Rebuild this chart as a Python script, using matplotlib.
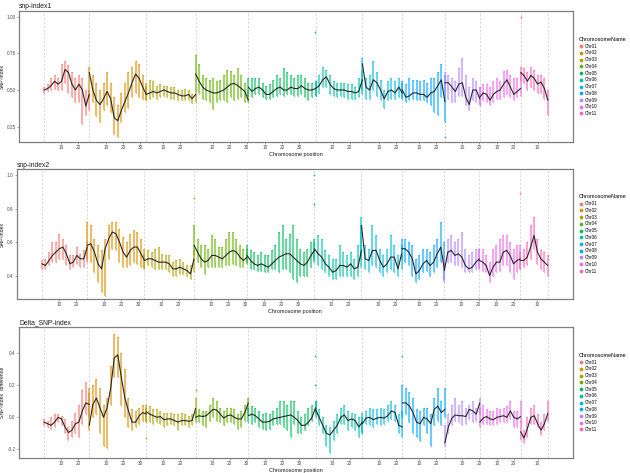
import numpy as np
import matplotlib
matplotlib.use("Agg")
import matplotlib.pyplot as plt
from matplotlib.lines import Line2D

plt.rcParams['font.family'] = ['Liberation Sans', 'DejaVu Sans']

# ---------------- data ----------------
chrom_names = ['Chr01', 'Chr02', 'Chr03', 'Chr04', 'Chr05', 'Chr06',
               'Chr07', 'Chr08', 'Chr09', 'Chr10', 'Chr11']
chrom_len = [26.5, 33.5, 29.0, 31.0, 39.5, 27.5, 23.5, 25.0, 20.5, 24.0, 16.0]
chrom_colors = ["#F8766D", "#DB8E00", "#AEA200", "#64B200", "#00BD5C", "#00C1A7",
                "#00BADE", "#00A6FF", "#B385FF", "#EF67EB", "#FF63B6"]
xtick_steps = [10, 20, 30]

# snp-index1: fitted curve, lower and upper extent of the points (per chromosome)
snp1_fit = [
    [0.50, 0.51, 0.53, 0.56, 0.54, 0.56, 0.64, 0.62, 0.54, 0.50, 0.54, 0.50, 0.39, 0.47],
    [0.62, 0.50, 0.43, 0.40, 0.44, 0.49, 0.44, 0.31, 0.29, 0.36, 0.42, 0.48, 0.55, 0.61, 0.58, 0.52, 0.47],
    [0.47, 0.48, 0.49, 0.48, 0.49, 0.50, 0.49, 0.48, 0.48, 0.47, 0.46, 0.46, 0.47, 0.44, 0.47],
    [0.61, 0.56, 0.52, 0.50, 0.49, 0.48, 0.48, 0.49, 0.50, 0.52, 0.54, 0.545, 0.53, 0.51, 0.49, 0.43],
    [0.52, 0.49, 0.51, 0.52, 0.50, 0.47, 0.47, 0.49, 0.51, 0.52, 0.50, 0.50, 0.52, 0.51, 0.51, 0.53, 0.51, 0.50, 0.50, 0.51],
    [0.51, 0.53, 0.57, 0.59, 0.54, 0.51, 0.50, 0.50, 0.50, 0.49, 0.49, 0.48, 0.49, 0.57],
    [0.68, 0.52, 0.50, 0.57, 0.55, 0.50, 0.44, 0.49, 0.50, 0.48, 0.52, 0.48],
    [0.50, 0.45, 0.46, 0.48, 0.48, 0.47, 0.47, 0.45, 0.48, 0.49, 0.53, 0.57, 0.42],
    [0.55, 0.55, 0.52, 0.49, 0.54, 0.55, 0.45, 0.40, 0.50, 0.50, 0.44],
    [0.45, 0.48, 0.47, 0.43, 0.47, 0.49, 0.50, 0.54, 0.57, 0.52, 0.47, 0.49, 0.51],
    [0.62, 0.60, 0.56, 0.60, 0.58, 0.54, 0.555, 0.51, 0.43],
]
snp1_low = [
    [0.48, 0.49, 0.50, 0.51, 0.50, 0.50, 0.55, 0.48, 0.45, 0.42, 0.42, 0.27, 0.33, 0.36],
    [0.45, 0.42, 0.32, 0.28, 0.36, 0.40, 0.35, 0.20, 0.18, 0.28, 0.35, 0.38, 0.45, 0.48, 0.45, 0.44, 0.43],
    [0.43, 0.44, 0.45, 0.44, 0.45, 0.46, 0.45, 0.44, 0.44, 0.43, 0.43, 0.43, 0.43, 0.41, 0.42],
    [0.50, 0.48, 0.44, 0.43, 0.42, 0.37, 0.42, 0.43, 0.43, 0.42, 0.45, 0.43, 0.44, 0.45, 0.42, 0.42],
    [0.46, 0.45, 0.47, 0.47, 0.45, 0.44, 0.44, 0.45, 0.46, 0.47, 0.46, 0.47, 0.47, 0.46, 0.46, 0.47, 0.45, 0.43, 0.45, 0.46],
    [0.46, 0.48, 0.52, 0.52, 0.47, 0.46, 0.45, 0.46, 0.45, 0.44, 0.44, 0.44, 0.45, 0.47],
    [0.50, 0.44, 0.44, 0.50, 0.46, 0.43, 0.38, 0.43, 0.44, 0.44, 0.45, 0.45],
    [0.44, 0.42, 0.43, 0.44, 0.43, 0.43, 0.43, 0.42, 0.40, 0.35, 0.33, 0.45, 0.28],
    [0.48, 0.44, 0.42, 0.42, 0.46, 0.46, 0.40, 0.36, 0.43, 0.42, 0.40],
    [0.40, 0.43, 0.42, 0.40, 0.42, 0.44, 0.44, 0.45, 0.47, 0.45, 0.43, 0.45, 0.46],
    [0.56, 0.55, 0.50, 0.52, 0.50, 0.48, 0.48, 0.44, 0.33],
]
snp1_high = [
    [0.52, 0.54, 0.58, 0.60, 0.58, 0.68, 0.70, 0.67, 0.62, 0.58, 0.60, 0.58, 0.50, 0.50],
    [0.66, 0.60, 0.55, 0.50, 0.55, 0.62, 0.55, 0.45, 0.40, 0.48, 0.55, 0.62, 0.66, 0.70, 0.68, 0.60, 0.55],
    [0.53, 0.57, 0.56, 0.53, 0.54, 0.53, 0.53, 0.52, 0.52, 0.50, 0.50, 0.51, 0.50, 0.47, 0.50],
    [0.74, 0.68, 0.60, 0.58, 0.57, 0.58, 0.56, 0.57, 0.60, 0.64, 0.63, 0.60, 0.65, 0.60, 0.55, 0.50],
    [0.58, 0.58, 0.58, 0.58, 0.55, 0.53, 0.54, 0.57, 0.60, 0.58, 0.65, 0.62, 0.60, 0.58, 0.60, 0.60, 0.58, 0.55, 0.55, 0.56],
    [0.56, 0.60, 0.66, 0.64, 0.60, 0.56, 0.55, 0.55, 0.55, 0.54, 0.54, 0.52, 0.58, 0.63],
    [0.72, 0.58, 0.60, 0.70, 0.62, 0.57, 0.50, 0.56, 0.58, 0.56, 0.58, 0.55],
    [0.56, 0.54, 0.58, 0.57, 0.57, 0.56, 0.57, 0.55, 0.58, 0.58, 0.62, 0.68, 0.60],
    [0.62, 0.60, 0.58, 0.56, 0.65, 0.72, 0.60, 0.52, 0.58, 0.56, 0.52],
    [0.52, 0.54, 0.54, 0.52, 0.56, 0.58, 0.56, 0.63, 0.64, 0.60, 0.58, 0.58, 0.62],
    [0.66, 0.65, 0.62, 0.66, 0.64, 0.60, 0.60, 0.58, 0.50],
]
# isolated points: (chromosome index, position in Mb, value)
snp1_outliers = [(4, 39.3, 0.90), (7, 24.8, 0.18), (10, 0.1, 1.00)]

# snp-index2
snp2_fit = [
    [0.47, 0.46, 0.49, 0.52, 0.54, 0.56, 0.57, 0.53, 0.47, 0.48, 0.52, 0.50, 0.50, 0.57],
    [0.58, 0.59, 0.54, 0.47, 0.44, 0.56, 0.62, 0.66, 0.65, 0.60, 0.54, 0.51, 0.55, 0.57, 0.57, 0.53, 0.49],
    [0.49, 0.50, 0.50, 0.49, 0.48, 0.48, 0.48, 0.47, 0.44, 0.44, 0.45, 0.44, 0.43, 0.41, 0.50],
    [0.58, 0.54, 0.50, 0.48, 0.49, 0.52, 0.52, 0.51, 0.50, 0.52, 0.54, 0.55, 0.54, 0.51, 0.49, 0.51],
    [0.52, 0.49, 0.47, 0.46, 0.47, 0.46, 0.45, 0.47, 0.49, 0.51, 0.52, 0.53, 0.53, 0.51, 0.49, 0.47, 0.46, 0.48, 0.52, 0.55],
    [0.56, 0.53, 0.51, 0.47, 0.45, 0.42, 0.43, 0.46, 0.46, 0.45, 0.47, 0.44, 0.45, 0.55],
    [0.70, 0.50, 0.49, 0.55, 0.55, 0.49, 0.45, 0.47, 0.51, 0.51, 0.44, 0.53],
    [0.56, 0.56, 0.54, 0.50, 0.41, 0.43, 0.47, 0.49, 0.46, 0.48, 0.53, 0.57, 0.44],
    [0.43, 0.54, 0.55, 0.52, 0.53, 0.51, 0.46, 0.44, 0.45, 0.48, 0.50],
    [0.49, 0.48, 0.46, 0.40, 0.45, 0.48, 0.48, 0.54, 0.55, 0.52, 0.47, 0.49, 0.50],
    [0.49, 0.49, 0.51, 0.57, 0.64, 0.54, 0.50, 0.48, 0.46],
]
snp2_low = [
    [0.44, 0.44, 0.46, 0.48, 0.48, 0.50, 0.50, 0.46, 0.44, 0.45, 0.47, 0.45, 0.45, 0.48],
    [0.50, 0.48, 0.42, 0.36, 0.30, 0.28, 0.50, 0.56, 0.55, 0.48, 0.45, 0.45, 0.46, 0.48, 0.47, 0.45, 0.44],
    [0.45, 0.46, 0.45, 0.44, 0.44, 0.44, 0.44, 0.42, 0.40, 0.40, 0.41, 0.41, 0.40, 0.38, 0.42],
    [0.52, 0.48, 0.45, 0.41, 0.45, 0.45, 0.45, 0.45, 0.45, 0.46, 0.46, 0.47, 0.46, 0.45, 0.45, 0.47],
    [0.48, 0.44, 0.44, 0.43, 0.43, 0.42, 0.42, 0.44, 0.44, 0.42, 0.44, 0.44, 0.42, 0.38, 0.36, 0.40, 0.40, 0.40, 0.45, 0.48],
    [0.50, 0.46, 0.44, 0.42, 0.40, 0.38, 0.38, 0.40, 0.40, 0.40, 0.40, 0.38, 0.40, 0.45],
    [0.50, 0.44, 0.42, 0.46, 0.45, 0.42, 0.40, 0.42, 0.44, 0.42, 0.40, 0.44],
    [0.50, 0.48, 0.46, 0.40, 0.36, 0.38, 0.42, 0.43, 0.40, 0.42, 0.45, 0.48, 0.38],
    [0.36, 0.48, 0.48, 0.46, 0.46, 0.45, 0.42, 0.42, 0.42, 0.44, 0.45],
    [0.44, 0.43, 0.42, 0.36, 0.40, 0.42, 0.43, 0.46, 0.46, 0.42, 0.38, 0.42, 0.44],
    [0.44, 0.45, 0.46, 0.50, 0.56, 0.47, 0.44, 0.42, 0.40],
]
snp2_high = [
    [0.49, 0.50, 0.54, 0.60, 0.60, 0.65, 0.62, 0.58, 0.52, 0.52, 0.57, 0.53, 0.55, 0.60],
    [0.72, 0.70, 0.62, 0.58, 0.55, 0.62, 0.70, 0.72, 0.72, 0.68, 0.63, 0.60, 0.65, 0.67, 0.66, 0.62, 0.56],
    [0.53, 0.55, 0.54, 0.56, 0.57, 0.53, 0.52, 0.52, 0.48, 0.49, 0.50, 0.48, 0.46, 0.46, 0.55],
    [0.70, 0.62, 0.58, 0.58, 0.56, 0.64, 0.62, 0.57, 0.57, 0.62, 0.66, 0.66, 0.62, 0.58, 0.56, 0.56],
    [0.58, 0.55, 0.54, 0.52, 0.54, 0.52, 0.52, 0.55, 0.58, 0.66, 0.70, 0.62, 0.65, 0.70, 0.62, 0.56, 0.54, 0.56, 0.60, 0.62],
    [0.60, 0.64, 0.62, 0.55, 0.52, 0.50, 0.50, 0.58, 0.54, 0.52, 0.54, 0.50, 0.58, 0.70],
    [0.75, 0.58, 0.56, 0.70, 0.64, 0.56, 0.52, 0.56, 0.64, 0.58, 0.52, 0.58],
    [0.62, 0.62, 0.60, 0.58, 0.50, 0.52, 0.56, 0.56, 0.54, 0.58, 0.62, 0.72, 0.60],
    [0.52, 0.62, 0.64, 0.60, 0.62, 0.66, 0.56, 0.52, 0.54, 0.56, 0.56],
    [0.56, 0.56, 0.52, 0.48, 0.56, 0.58, 0.62, 0.64, 0.64, 0.60, 0.56, 0.58, 0.58],
    [0.54, 0.56, 0.60, 0.70, 0.75, 0.62, 0.55, 0.54, 0.52],
]
snp2_outliers = [(2, 29.0, 0.86), (4, 39.4, 1.00), (4, 39.4, 0.83), (10, 0.05, 0.89)]

# Delta SNP-index
delta_fit = [
    [-0.03, -0.04, -0.05, -0.03, 0.00, -0.01, -0.06, -0.095, -0.08, -0.04, -0.03, 0.04, 0.09, 0.08],
    [-0.05, 0.08, 0.12, 0.06, 0.00, 0.06, 0.18, 0.37, 0.39, 0.25, 0.12, 0.04, -0.03, -0.03, 0.01, 0.03, 0.02],
    [0.035, 0.02, 0.01, 0.00, 0.005, -0.015, -0.01, -0.01, -0.02, -0.03, -0.02, -0.02, -0.025, -0.02, 0.055],
    [0.00, 0.01, 0.005, 0.01, 0.03, 0.05, 0.045, 0.02, -0.005, 0.01, 0.015, 0.00, -0.01, -0.01, 0.03, 0.09],
    [0.01, 0.02, 0.01, -0.01, -0.03, -0.03, -0.025, -0.01, -0.005, 0.00, 0.005, 0.01, 0.015, 0.00, -0.02, -0.05, -0.05, -0.03, 0.00, 0.06],
    [0.05, 0.00, -0.05, -0.10, -0.11, -0.08, -0.05, 0.00, 0.015, -0.02, -0.01, -0.02, -0.06, -0.03],
    [-0.04, -0.005, 0.00, -0.015, -0.005, 0.00, -0.005, 0.01, 0.04, 0.03, -0.05, -0.06],
    [0.09, 0.09, 0.07, 0.03, -0.03, -0.04, 0.00, -0.01, -0.04, 0.05, 0.07, 0.03, 0.05],
    [-0.16, -0.06, -0.005, 0.015, 0.01, 0.01, 0.005, 0.05, 0.04, 0.02, 0.09],
    [-0.03, -0.005, 0.005, -0.01, -0.015, 0.00, 0.005, 0.01, 0.00, 0.04, 0.00, -0.01, 0.005],
    [-0.09, -0.13, -0.07, 0.00, 0.01, -0.04, -0.08, -0.04, 0.025],
]
delta_low = [
    [-0.05, -0.06, -0.07, -0.06, -0.03, -0.05, -0.10, -0.14, -0.12, -0.10, -0.12, -0.04, 0.02, 0.00],
    [-0.08, 0.00, 0.02, -0.10, -0.18, -0.19, 0.08, 0.25, 0.25, 0.08, 0.00, -0.06, -0.08, -0.06, -0.04, -0.02, -0.03],
    [-0.02, -0.03, -0.04, -0.03, -0.04, -0.06, -0.05, -0.04, -0.05, -0.08, -0.05, -0.05, -0.06, -0.05, 0.00],
    [-0.03, -0.03, -0.05, -0.06, -0.02, 0.00, -0.02, -0.03, -0.05, -0.03, -0.03, -0.04, -0.07, -0.06, -0.02, 0.02],
    [-0.03, -0.04, -0.03, -0.06, -0.07, -0.08, -0.07, -0.05, -0.04, -0.04, -0.06, -0.08, -0.12, -0.04, -0.10, -0.10, -0.08, -0.05, -0.02, 0.02],
    [0.00, -0.05, -0.10, -0.18, -0.22, -0.14, -0.10, -0.04, -0.04, -0.08, -0.06, -0.08, -0.12, -0.10],
    [-0.10, -0.04, -0.05, -0.06, -0.04, -0.05, -0.04, -0.02, -0.01, -0.02, -0.10, -0.12],
    [0.00, 0.02, -0.03, -0.10, -0.12, -0.15, -0.05, -0.10, -0.18, -0.05, -0.02, -0.05, 0.00],
    [-0.18, -0.10, -0.05, -0.02, -0.03, -0.05, -0.04, -0.01, -0.03, -0.02, 0.02],
    [-0.06, -0.04, -0.04, -0.05, -0.05, -0.04, -0.03, -0.03, -0.03, -0.01, -0.06, -0.06, -0.03],
    [-0.14, -0.16, -0.12, -0.04, -0.04, -0.06, -0.11, -0.08, -0.02],
]
delta_high = [
    [-0.01, -0.02, 0.00, 0.02, 0.02, 0.01, -0.01, -0.06, -0.02, 0.03, 0.08, 0.17, 0.22, 0.15],
    [0.18, 0.20, 0.24, 0.18, 0.08, 0.12, 0.32, 0.52, 0.50, 0.40, 0.30, 0.12, 0.05, 0.04, 0.06, 0.08, 0.06],
    [0.08, 0.07, 0.05, 0.05, 0.04, 0.03, 0.03, 0.03, 0.02, 0.02, 0.03, 0.02, 0.01, 0.02, 0.12],
    [0.04, 0.05, 0.04, 0.04, 0.08, 0.12, 0.10, 0.06, 0.04, 0.06, 0.06, 0.05, 0.02, 0.04, 0.08, 0.12],
    [0.06, 0.07, 0.06, 0.04, 0.02, 0.03, 0.02, 0.04, 0.06, 0.10, 0.10, 0.08, 0.10, 0.10, 0.04, 0.00, 0.02, 0.06, 0.08, 0.10],
    [0.10, 0.05, 0.00, -0.05, -0.06, -0.02, 0.02, 0.06, 0.08, 0.04, 0.03, 0.02, 0.00, 0.03],
    [0.00, 0.04, 0.06, 0.05, 0.05, 0.06, 0.05, 0.08, 0.10, 0.08, 0.02, 0.04],
    [0.20, 0.18, 0.16, 0.12, 0.05, 0.04, 0.06, 0.06, 0.02, 0.12, 0.18, 0.10, 0.18],
    [-0.05, 0.02, 0.08, 0.12, 0.08, 0.10, 0.06, 0.08, 0.10, 0.06, 0.12],
    [0.06, 0.08, 0.05, 0.04, 0.04, 0.06, 0.05, 0.06, 0.07, 0.10, 0.04, 0.04, 0.10],
    [-0.02, -0.08, 0.00, 0.06, 0.08, 0.02, -0.03, 0.02, 0.10],
]
delta_outliers = [(4, 39.4, 0.385), (4, 39.4, 0.20), (6, 23.4, 0.385), (2, 29.0, 0.17), (1, 33.3, -0.13)]

# ---------------- layout ----------------
W, H = 630, 473
fig = plt.figure(figsize=(W / 100, H / 100), dpi=100)
offsets = np.concatenate([[0.0], np.cumsum(chrom_len)[:-1]])
total = float(np.sum(chrom_len))
pad = total * 0.05

panels = [
    dict(title='snp-index1', ylabel='SNP-index', fit=snp1_fit, low=snp1_low, high=snp1_high,
         out=snp1_outliers, ylim=(0.144, 1.041), yticks=[0.25, 0.50, 0.75, 1.00],
         ytl=['0.25', '0.50', '0.75', '1.00'], box=(19, 11, 573, 142)),
    dict(title='snp-index2', ylabel='SNP-index', fit=snp2_fit, low=snp2_low, high=snp2_high,
         out=snp2_outliers, ylim=(0.260, 1.036), yticks=[0.4, 0.6, 0.8, 1.0],
         ytl=['0.4', '0.6', '0.8', '1.0'], box=(16.7, 169, 573, 299)),
    dict(title='Delta_SNP-index', ylabel='SNP-index  difference', fit=delta_fit, low=delta_low,
         high=delta_high, out=delta_outliers, ylim=(-0.254, 0.564), yticks=[-0.2, 0.0, 0.2, 0.4],
         ytl=['-0.2', '0.0', '0.2', '0.4'], box=(19, 327, 573, 458)),
]

spine_col = '#7f7f7f'
tick_col = '#4d4d4d'

for p in panels:
    l, t, r, b = p['box']
    ax = fig.add_axes([l / W, 1 - b / H, (r - l) / W, (b - t) / H])
    ax.set_xlim(-pad, total + pad)
    ax.set_ylim(*p['ylim'])

    # chromosome boundaries
    for xb in list(offsets) + [total]:
        ax.axvline(xb, color='#c8c8c8', lw=0.5, ls=(0, (3, 2.5)), zorder=1)

    for i in range(len(chrom_names)):
        L = chrom_len[i]
        col = chrom_colors[i]
        lo = p['low'][i]
        hi = p['high'][i]
        n = min(len(lo), len(hi))
        xs = offsets[i] + np.linspace(0, L, n)
        ax.vlines(xs, lo[:n], hi[:n], color=col, lw=1.5, alpha=0.58, zorder=2)
        ax.scatter(xs, lo[:n], s=1.0, color=col, alpha=0.6, lw=0, zorder=2)
        ax.scatter(xs, hi[:n], s=1.0, color=col, alpha=0.6, lw=0, zorder=2)
        f = p['fit'][i]
        xf = offsets[i] + np.linspace(0, L, len(f))
        ax.plot(xf, f, color='#262626', lw=0.8, zorder=3, solid_capstyle='round')

    for (ci, pos, val) in p['out']:
        ax.scatter([offsets[ci] + pos], [val], s=1.5, color=chrom_colors[ci], lw=0, zorder=2)

    # x ticks: 10, 20, 30 within each chromosome
    xt, xl = [], []
    for i in range(len(chrom_names)):
        for s in xtick_steps:
            if s <= chrom_len[i]:
                xt.append(offsets[i] + s)
                xl.append(str(s))
    ax.set_xticks(xt)
    ax.set_xticklabels(xl)
    ax.set_yticks(p['yticks'])
    ax.set_yticklabels(p['ytl'])
    ax.tick_params(axis='both', labelsize=3.4, length=1.6, width=0.5, pad=0.8,
                   colors=spine_col, labelcolor=tick_col)
    for sp in ax.spines.values():
        sp.set_color(spine_col)
        sp.set_linewidth(0.9)

    ax.set_xlabel('Chromosome position', fontsize=4.0, labelpad=1.2, color='#1a1a1a')
    ax.set_ylabel(p['ylabel'], fontsize=3.8, labelpad=1.5, color='#1a1a1a')
    ax.set_title(p['title'], loc='left', fontsize=4.9, pad=1.8, color='#1a1a1a')

    # legend
    handles = [Line2D([], [], ls='none', marker='o', ms=2.7, color=c, mec='none')
               for c in chrom_colors]
    cy = 1 - ((t + b) / 2) / H
    leg = fig.legend(handles, chrom_names, title='ChromosomeName', loc='center left',
                     bbox_to_anchor=(579 / W, cy), bbox_transform=fig.transFigure,
                     frameon=False, fontsize=3.3, title_fontsize=4.0,
                     handlelength=0.9, handletextpad=0.3, labelspacing=0.38,
                     borderpad=0, borderaxespad=0)
    leg._legend_box.align = 'left'

fig.savefig('out.png', dpi=100, facecolor='white')
